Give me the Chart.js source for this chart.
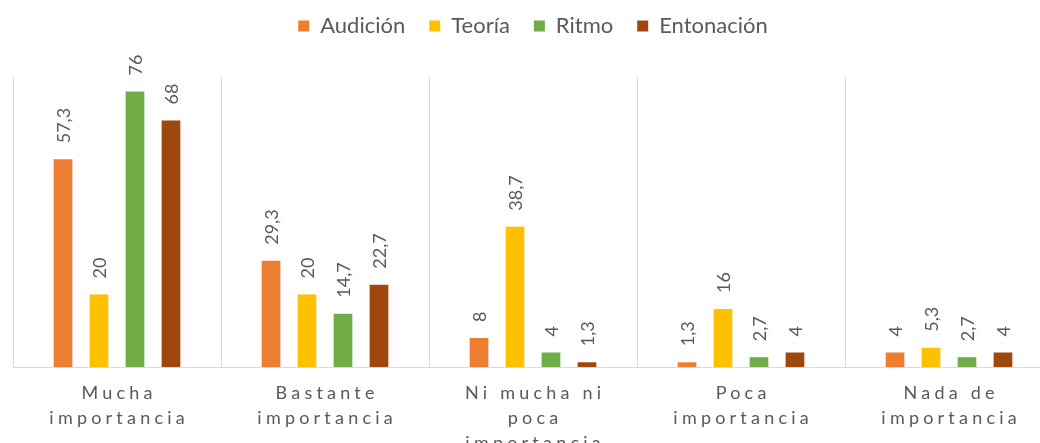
<!DOCTYPE html>
<html>
<head>
<meta charset="utf-8">
<script src="https://cdn.jsdelivr.net/npm/chart.js@4.4.1/dist/chart.umd.min.js"></script>
<style>
  html, body { margin: 0; padding: 0; background: #ffffff; }
  #wrap { width: 1040px; height: 443px; overflow: hidden; position: relative; }
  #c { position: absolute; left: 0; top: 0; }
</style>
</head>
<body>
<div id="wrap"><canvas id="c" width="1066" height="466"></canvas></div>
<script>
const categories = [
  ["Mucha", "importancia"],
  ["Bastante", "importancia"],
  ["Ni mucha ni", "poca", "importancia"],
  ["Poca", "importancia"],
  ["Nada de", "importancia"]
];
const seriesNames = ["Audición", "Teoría", "Ritmo", "Entonación"];
const audicion   = [57.3, 29.3, 8, 1.3, 4];
const teoria     = [20, 20, 38.7, 16, 5.3];
const ritmo      = [76, 14.7, 4, 2.7, 2.7];
const entonacion = [68, 22.7, 1.3, 4, 4];
const colors = ["#ED7D31", "#FFC000", "#70AD47", "#9E480E"];
const yMax = 80;

const textColor = "#595959";
const fontFamily = "Lato, 'Open Sans', sans-serif";

const valueLabels = {
  id: 'valueLabels',
  afterDatasetsDraw(chart) {
    const ctx = chart.ctx;
    chart.data.datasets.forEach((ds, i) => {
      const meta = chart.getDatasetMeta(i);
      meta.data.forEach((bar, j) => {
        const v = ds.data[j];
        ctx.save();
        ctx.font = "18px " + fontFamily;
        ctx.fillStyle = textColor;
        ctx.translate(bar.x + 1, bar.y - 16);
        ctx.rotate(-Math.PI / 2);
        ctx.textAlign = 'left';
        ctx.textBaseline = 'middle';
        ctx.fillText(String(v).replace('.', ','), 0, 0);
        ctx.restore();
      });
    });
  }
};

const spacedTicks = {
  id: 'spacedTicks',
  beforeDraw(chart) {
    const sc = chart.scales.x;
    if (sc && !sc._spacedWrapped) {
      const orig = sc.drawLabels;
      sc.drawLabels = function (area) {
        const ctx = this.ctx;
        ctx.save();
        ctx.letterSpacing = '4.2px';
        ctx.translate(2.1, 2);
        orig.call(this, area);
        ctx.restore();
      };
      sc._spacedWrapped = true;
    }
  }
};

const seriesData = [audicion, teoria, ritmo, entonacion];

new Chart(document.getElementById('c'), {
  type: 'bar',
  data: {
    labels: categories,
    datasets: seriesNames.map((n, i) => ({
      label: n,
      data: seriesData[i],
      backgroundColor: colors[i],
      borderWidth: 0,
      categoryPercentage: 0.692,
      barPercentage: 0.52
    }))
  },
  options: {
    responsive: false,
    animation: false,
    layout: { padding: { left: 13, right: 13, top: -9, bottom: 0 } },
    plugins: {
      legend: {
        position: 'top',
        labels: {
          color: textColor,
          font: { family: fontFamily, size: 22 },
          boxWidth: 11,
          boxHeight: 11,
          padding: 24
        }
      },
      title: {
        display: true,
        text: '',
        weight: 500,
        font: { size: 1, lineHeight: 1 },
        padding: { top: 29, bottom: 0 }
      },
      tooltip: { enabled: false }
    },
    scales: {
      x: {
        grid: { display: true, color: '#d9d9d9', lineWidth: 1, drawTicks: false, offset: true },
        border: { display: true, color: '#d9d9d9', width: 1 },
        ticks: {
          color: textColor,
          font: { family: fontFamily, size: 18, lineHeight: '25px' },
          padding: 12,
          maxRotation: 0,
          minRotation: 0,
          autoSkip: false
        }
      },
      y: {
        display: false,
        min: 0,
        max: yMax
      }
    }
  },
  plugins: [valueLabels, spacedTicks]
});
</script>
</body>
</html>
